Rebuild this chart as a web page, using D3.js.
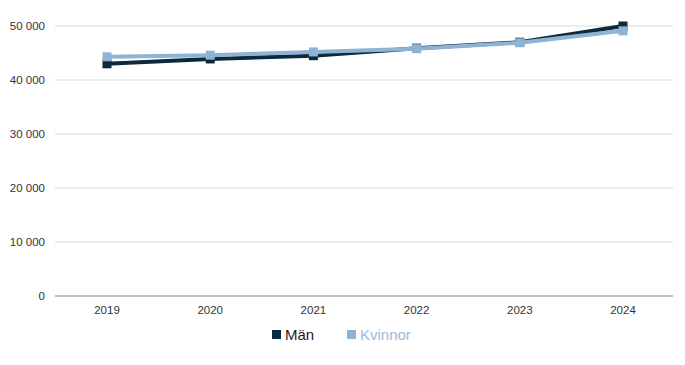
<!DOCTYPE html>
<html><head><meta charset="utf-8">
<script src="https://cdn.jsdelivr.net/npm/d3@7"></script>
<style>body{margin:0;background:#fff}svg{display:block}</style>
</head><body>
<svg id="c" width="685" height="365"></svg>
<script>
const years = ["2019","2020","2021","2022","2023","2024"];
const man = [43000, 43900, 44500, 45900, 47000, 50000];
const kvinnor = [44300, 44600, 45200, 45800, 46900, 49100];
const yTicks = [0, 10000, 20000, 30000, 40000, 50000];
const seriesNames = ["Män", "Kvinnor"];
const colors = ["#0b2a3c", "#8fb3d5"];

const svg = d3.select("#c");
const font = "'Liberation Sans', Arial, sans-serif";
const x = d3.scalePoint().domain(years).range([107, 623]);
const y = d3.scaleLinear().domain([0, 50000]).range([296, 26]);
const left = 55, right = 673;
const fmt = v => d3.format(",")(v).replace(/,/g, " ");

svg.append("g").selectAll("line").data(yTicks.filter(d => d > 0)).join("line")
  .attr("x1", left).attr("x2", right)
  .attr("y1", d => y(d)).attr("y2", d => y(d))
  .attr("stroke", "#d9d9d9").attr("stroke-width", 1);
svg.append("line").attr("x1", left).attr("x2", right)
  .attr("y1", y(0)).attr("y2", y(0)).attr("stroke", "#a9b1b8").attr("stroke-width", 1.3);

svg.append("g").selectAll("text").data(yTicks).join("text")
  .attr("x", 45).attr("y", d => y(d)).attr("dy", "0.35em")
  .attr("text-anchor", "end").attr("font-family", font).attr("font-size", 11.5)
  .attr("fill", "#333").text(fmt);

svg.append("g").selectAll("text").data(years).join("text")
  .attr("x", d => x(d)).attr("y", 310).attr("dy", "0.35em")
  .attr("text-anchor", "middle").attr("font-family", font).attr("font-size", 11.5)
  .attr("fill", "#333").text(d => d);

const series = [man, kvinnor];
const line = d3.line().x((d, i) => x(years[i])).y(d => y(d));
series.forEach((s, k) => {
  svg.append("path").datum(s).attr("d", line).attr("fill", "none")
    .attr("stroke", colors[k]).attr("stroke-width", 4).attr("stroke-linejoin", "round");
  svg.append("g").selectAll("rect").data(s).join("rect")
    .attr("x", (d, i) => x(years[i]) - 4.5).attr("y", d => y(d) - 4.5)
    .attr("width", 9).attr("height", 9).attr("fill", colors[k]);
});

const legX = [272, 347];
const legTextColors = ["#1a1a1a", "#9dbad6"];
seriesNames.forEach((n, k) => {
  svg.append("rect").attr("x", legX[k]).attr("y", 330).attr("width", 9).attr("height", 9).attr("fill", colors[k]);
  svg.append("text").attr("x", legX[k] + 13).attr("y", 335).attr("dy", "0.35em")
    .attr("font-family", font).attr("font-size", 15).attr("fill", legTextColors[k]).text(n);
});
</script>
</body></html>
